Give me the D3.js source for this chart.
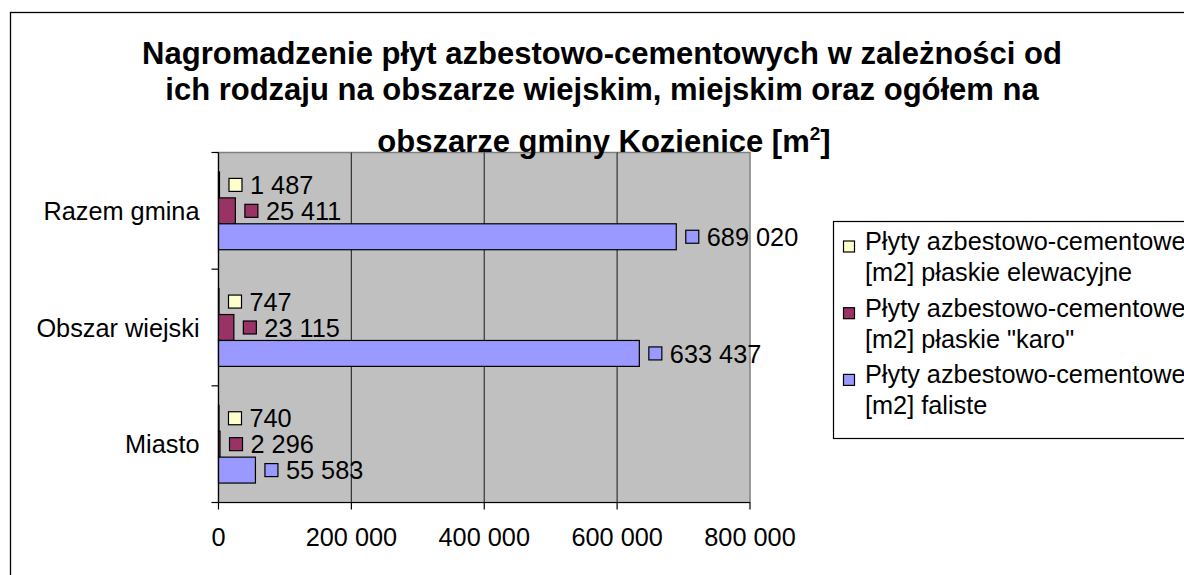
<!DOCTYPE html>
<html lang="pl">
  <head>
    <meta charset="UTF-8" />
    <title>Nagromadzenie płyt azbestowo-cementowych</title>
    <script src="https://d3js.org/d3.v7.min.js"></script>
    <style>
      body {
        margin: 0;
        background: #fff;
      }
      svg text {
        font-family: Arial, 'Liberation Sans', sans-serif;
        fill: #000;
      }
    </style>
  </head>
  <body>
    <div id="chart"></div>
    <script>
      // dane
      const categories = ['Razem gmina', 'Obszar wiejski', 'Miasto'];
      const seriesKeys = ['elewacyjne', 'karo', 'faliste'];
      const elewacyjne = [1487, 747, 740];
      const karo = [25411, 23115, 2296];
      const faliste = [689020, 633437, 55583];
      const legendLines = [
        ['Płyty azbestowo-cementowe', '[m2] płaskie elewacyjne'],
        ['Płyty azbestowo-cementowe', '[m2] płaskie "karo"'],
        ['Płyty azbestowo-cementowe', '[m2] faliste'],
      ];
      const xTicks = [0, 200000, 400000, 600000, 800000];
      const titleLines = [
        'Nagromadzenie płyt azbestowo-cementowych w zależności od',
        'ich rodzaju na obszarze wiejskim, miejskim oraz ogółem  na',
      ];

      const colors = { elewacyjne: '#FFFFCC', karo: '#993366', faliste: '#9999FF' };
      const values = { elewacyjne, karo, faliste };

      const width = 1184;
      const height = 575;
      const plot = { left: 218.5, right: 750, top: 152.5, bottom: 502.5 };
      const fontSize = '25.3px';

      const svg = d3
        .select('#chart')
        .append('svg')
        .attr('width', width)
        .attr('height', height);

      // ramka całego wykresu (wychodzi poza kadr)
      svg
        .append('rect')
        .attr('x', 10.5)
        .attr('y', 12.5)
        .attr('width', 1250)
        .attr('height', 700)
        .attr('fill', '#fff')
        .attr('stroke', '#000')
        .attr('stroke-width', 1.3);

      const x = d3.scaleLinear().domain([0, 800000]).range([plot.left, plot.right]);
      const y = d3.scaleBand().domain(categories).range([plot.top, plot.bottom]);
      const barH = y.bandwidth() / 4.5;
      const inner = d3
        .scaleBand()
        .domain(seriesKeys)
        .range([0, barH * 3]);
      const groupOffset = (y.bandwidth() - barH * 3) / 2;

      const fmt = d3
        .formatLocale({ decimal: ',', thousands: ' ', grouping: [3], currency: ['', ''] })
        .format(',d');

      // tło obszaru wykresu
      svg
        .append('rect')
        .attr('x', plot.left)
        .attr('y', plot.top)
        .attr('width', plot.right - plot.left)
        .attr('height', plot.bottom - plot.top)
        .attr('fill', '#C0C0C0')
        .attr('stroke', '#808080')
        .attr('stroke-width', 1.5);

      // linie siatki
      svg
        .append('g')
        .selectAll('line')
        .data(xTicks.slice(1, -1))
        .join('line')
        .attr('x1', (d) => x(d))
        .attr('x2', (d) => x(d))
        .attr('y1', plot.top)
        .attr('y2', plot.bottom)
        .attr('stroke', '#333')
        .attr('stroke-width', 1.2);

      // słupki
      const rows = categories.map((c, i) =>
        seriesKeys.map((k) => ({ cat: c, key: k, value: values[k][i] }))
      );
      const bars = svg
        .append('g')
        .selectAll('g')
        .data(rows.flat())
        .join('g')
        .attr(
          'transform',
          (d) => `translate(0,${y(d.cat) + groupOffset + inner(d.key)})`
        );

      bars
        .append('rect')
        .attr('x', plot.left)
        .attr('y', 0)
        .attr('width', (d) => x(d.value) - plot.left)
        .attr('height', inner.bandwidth())
        .attr('fill', (d) => colors[d.key])
        .attr('stroke', '#000')
        .attr('stroke-width', 1.2);

      // etykiety z kluczem legendy
      const sq = 13;
      bars
        .append('rect')
        .attr('x', (d) => x(d.value) + 9.5)
        .attr('y', inner.bandwidth() / 2 - sq / 2)
        .attr('width', sq)
        .attr('height', sq)
        .attr('fill', (d) => colors[d.key])
        .attr('stroke', '#000')
        .attr('stroke-width', 1.2);

      bars
        .append('text')
        .attr('x', (d) => x(d.value) + 9.5 + sq + 8)
        .attr('y', inner.bandwidth() / 2)
        .attr('dy', '0.36em')
        .style('font-size', fontSize)
        .text((d) => fmt(d.value));

      // oś X
      const xAxis = svg.append('g');
      xAxis
        .append('line')
        .attr('x1', plot.left)
        .attr('x2', plot.right)
        .attr('y1', plot.bottom)
        .attr('y2', plot.bottom)
        .attr('stroke', '#000')
        .attr('stroke-width', 1.2);
      xAxis
        .selectAll('line.tick')
        .data(xTicks)
        .join('line')
        .attr('class', 'tick')
        .attr('x1', (d) => x(d))
        .attr('x2', (d) => x(d))
        .attr('y1', plot.bottom)
        .attr('y2', plot.bottom + 7)
        .attr('stroke', '#000')
        .attr('stroke-width', 1.2);
      xAxis
        .selectAll('text')
        .data(xTicks)
        .join('text')
        .attr('x', (d) => x(d))
        .attr('y', 546)
        .attr('text-anchor', 'middle')
        .style('font-size', fontSize)
        .text((d) => fmt(d));

      // oś Y
      const yAxis = svg.append('g');
      yAxis
        .append('line')
        .attr('x1', plot.left)
        .attr('x2', plot.left)
        .attr('y1', plot.top)
        .attr('y2', plot.bottom)
        .attr('stroke', '#000')
        .attr('stroke-width', 1.2);
      const bounds = categories.map((c) => y(c)).concat([plot.bottom]);
      yAxis
        .selectAll('line.tick')
        .data(bounds)
        .join('line')
        .attr('class', 'tick')
        .attr('x1', plot.left - 7)
        .attr('x2', plot.left)
        .attr('y1', (d) => d)
        .attr('y2', (d) => d)
        .attr('stroke', '#000')
        .attr('stroke-width', 1.2);
      yAxis
        .selectAll('text')
        .data(categories)
        .join('text')
        .attr('x', plot.left - 19)
        .attr('y', (d) => y(d) + y.bandwidth() / 2)
        .attr('dy', '0.36em')
        .attr('text-anchor', 'end')
        .style('font-size', fontSize)
        .text((d) => d);

      // tytuł
      const title = svg
        .append('g')
        .attr('text-anchor', 'middle')
        .style('font-size', '31px')
        .style('font-weight', 'bold');
      title
        .selectAll('text.line')
        .data(titleLines)
        .join('text')
        .attr('class', 'line')
        .attr('x', 602)
        .attr('y', (d, i) => 64 + i * 36)
        .text((d) => d);
      const t3 = title.append('text').attr('x', 604).attr('y', 152);
      t3.append('tspan').text('obszarze gminy Kozienice [m');
      t3.append('tspan').attr('dy', -12).style('font-size', '19px').text('2');
      t3.append('tspan').attr('dy', 12).text(']');

      // legenda
      const legend = svg.append('g');
      legend
        .append('rect')
        .attr('x', 833.5)
        .attr('y', 221.5)
        .attr('width', 400)
        .attr('height', 217)
        .attr('fill', '#fff')
        .attr('stroke', '#000')
        .attr('stroke-width', 1.2);
      const items = legend
        .selectAll('g')
        .data(seriesKeys)
        .join('g')
        .attr('transform', (d, i) => `translate(0,${250 + i * 66.7})`);
      items
        .append('rect')
        .attr('x', 843.5)
        .attr('y', -9)
        .attr('width', 11)
        .attr('height', 11)
        .attr('fill', (d) => colors[d])
        .attr('stroke', '#000')
        .attr('stroke-width', 1.2);
      items
        .selectAll('text')
        .data((d, i) => legendLines[i])
        .join('text')
        .attr('x', 865)
        .attr('y', (d, j) => j * 31)
        .style('font-size', fontSize)
        .text((d) => d);
    </script>
  </body>
</html>
